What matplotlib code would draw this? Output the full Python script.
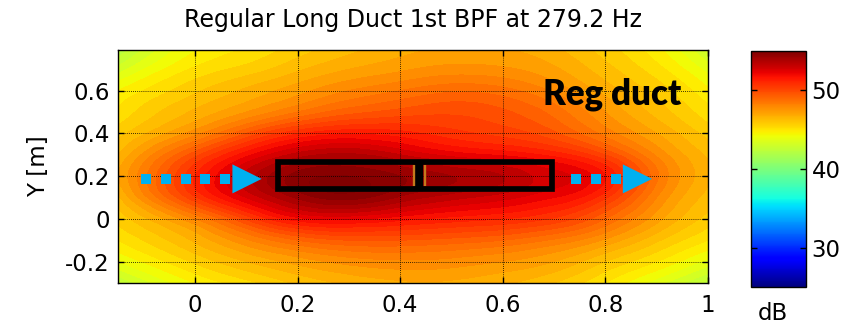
import numpy as np
import matplotlib
matplotlib.use("Agg")
import matplotlib.pyplot as plt
import matplotlib.tri as mtri
from matplotlib.patches import Rectangle, Polygon
from matplotlib.colors import Normalize
from matplotlib.cm import ScalarMappable

# ---------------- data ----------------
title = "Regular Long Duct 1st BPF at 279.2 Hz"
x_grid = [-0.15, 0.0, 0.1, 0.2, 0.3, 0.4, 0.5, 0.6, 0.7, 0.8, 0.9, 1.0]
y_grid = [-0.3, -0.2, -0.1, 0.0, 0.1, 0.2, 0.3, 0.4, 0.5, 0.6, 0.7, 0.8]
# SPL [dB], one row per y value (bottom to top), one column per x value
spl = [
    [42.5, 44.5, 45.3, 46.1, 46.6, 46.9, 46.9, 46.6, 46.0, 45.0, 43.7, 42.3],  # y=-0.3
    [44.0, 45.6, 46.5, 47.2, 47.7, 47.9, 47.8, 47.5, 47.0, 46.0, 45.0, 43.8],  # y=-0.2
    [45.0, 46.6, 47.9, 49.0, 49.5, 49.5, 49.3, 49.0, 48.4, 47.4, 46.1, 45.0],  # y=-0.1
    [45.7, 48.0, 50.1, 51.8, 52.1, 51.7, 51.3, 51.0, 50.4, 49.0, 47.2, 45.8],  # y= 0.0
    [46.4, 50.4, 52.5, 54.1, 54.7, 53.9, 53.2, 52.7, 52.0, 50.6, 48.0, 46.3],  # y= 0.1
    [47.0, 51.0, 53.2, 54.7, 55.0, 54.5, 54.0, 53.5, 52.7, 51.5, 48.6, 46.6],  # y= 0.2
    [46.5, 49.8, 51.8, 53.2, 53.6, 53.0, 52.3, 51.9, 51.3, 50.0, 47.9, 46.4],  # y= 0.3
    [45.8, 47.8, 49.5, 50.9, 51.4, 51.2, 50.7, 50.3, 49.6, 48.3, 47.0, 45.8],  # y= 0.4
    [45.1, 46.6, 47.5, 48.5, 49.3, 49.7, 49.9, 49.6, 48.8, 47.5, 46.3, 45.2],  # y= 0.5
    [44.5, 45.9, 46.6, 47.3, 48.0, 48.5, 48.9, 48.7, 47.9, 46.8, 45.8, 44.6],  # y= 0.6
    [43.2, 45.1, 45.7, 46.4, 47.0, 47.4, 47.7, 47.6, 47.1, 46.2, 45.2, 43.8],  # y= 0.7
    [42.0, 44.4, 45.0, 45.7, 46.3, 46.8, 47.0, 47.0, 46.6, 45.7, 44.6, 42.8],  # y= 0.8
]
x_ticks = [0, 0.2, 0.4, 0.6, 0.8, 1.0]
x_ticklabels = ["0", "0.2", "0.4", "0.6", "0.8", "1"]
y_ticks = [-0.2, 0.0, 0.2, 0.4, 0.6]
y_ticklabels = ["-0.2", "0", "0.2", "0.4", "0.6"]
cbar_ticks = [30, 40, 50]
cbar_ticklabels = ["30", "40", "50"]
db_min, db_max = 25, 55

# ---------------- figure ----------------
W, H = 849, 325
fig = plt.figure(figsize=(W / 100, H / 100), dpi=100)
ax = fig.add_axes([118 / W, (H - 283) / H, (708 - 118) / W, (283 - 50) / H])
cax = fig.add_axes([751 / W, (H - 287) / H, 55 / W, (287 - 51) / H])

cmap = plt.get_cmap("jet")
norm = Normalize(vmin=db_min, vmax=db_max)

X, Y = np.meshgrid(np.array(x_grid), np.array(y_grid))
Z = np.array(spl)
tri = mtri.Triangulation(X.ravel(), Y.ravel())
refiner = mtri.UniformTriRefiner(tri)
tri_f, z_f = refiner.refine_field(Z.ravel(), subdiv=4)
levels = np.arange(db_min, db_max + 1.01, 0.5)
ax.tricontourf(tri_f, z_f, levels=levels, cmap=cmap, norm=norm, zorder=1)

ax.set_xlim(-0.15, 1.0)
ax.set_ylim(-0.3, 0.79)
ax.set_xticks(x_ticks)
ax.set_xticklabels(x_ticklabels)
ax.set_yticks(y_ticks)
ax.set_yticklabels(y_ticklabels)
fs = 16.5
ax.tick_params(direction="in", top=True, right=True, length=4, width=1,
               labelsize=fs, colors="black")
ax.tick_params(axis="x", pad=8)
ax.tick_params(axis="y", pad=6)
ax.set_axisbelow(False)
ax.grid(True, color="black", linestyle=(0, (1, 1.5)), linewidth=0.6)
for s in ax.spines.values():
    s.set_linewidth(1.0)
    s.set_zorder(10)

ax.set_ylabel("Y [m]", fontsize=fs)
ax.yaxis.set_label_coords(-0.115, 0.5)

fig.text(413 / W, 1 - 20 / H, title, ha="center", va="center", fontsize=17)

# duct outline
ax.add_patch(Rectangle((0.1615, 0.138), 0.534, 0.130, fill=False,
                       edgecolor="black", linewidth=4.1, zorder=5))
ax.plot([0.4373, 0.4373], [0.138, 0.268], color="black", linewidth=6, zorder=5,
        solid_capstyle="butt")
for xo in (0.4269, 0.4477):
    ax.plot([xo, xo], [0.152, 0.254], color="#c47a1c", linewidth=1.7, zorder=6,
            solid_capstyle="butt")

# flow arrows
blue = "#00b0f0"
ax.plot([-0.095, -0.056, -0.017, 0.020, 0.059], [0.187] * 5, "s", color=blue,
        markersize=7.2, markeredgewidth=0, zorder=6)
ax.add_patch(Polygon([[0.073, 0.187 + 0.068], [0.073, 0.187 - 0.068], [0.130, 0.187]],
                     closed=True, facecolor=blue, edgecolor="none", zorder=6))
ax.plot([0.743, 0.782, 0.821], [0.187] * 3, "s", color=blue,
        markersize=7.2, markeredgewidth=0, zorder=6)
ax.add_patch(Polygon([[0.834, 0.187 + 0.068], [0.834, 0.187 - 0.068], [0.891, 0.187]],
                     closed=True, facecolor=blue, edgecolor="none", zorder=6))

ax.text(0.814, 0.535, "Reg duct", ha="center", va="baseline", fontsize=25,
        fontweight="heavy", family="Lato", color="black", zorder=7)

# colorbar
cb = fig.colorbar(ScalarMappable(norm=norm, cmap=cmap), cax=cax)
cb.set_ticks(cbar_ticks)
cb.set_ticklabels(cbar_ticklabels)
cax.tick_params(direction="in", left=True, right=True, length=4, width=1,
                labelsize=fs, pad=4)
cb.outline.set_linewidth(1.0)
fig.text(773 / W, 1 - 313 / H, "dB", ha="center", va="center", fontsize=fs)

fig.savefig("out.png", dpi=100)
